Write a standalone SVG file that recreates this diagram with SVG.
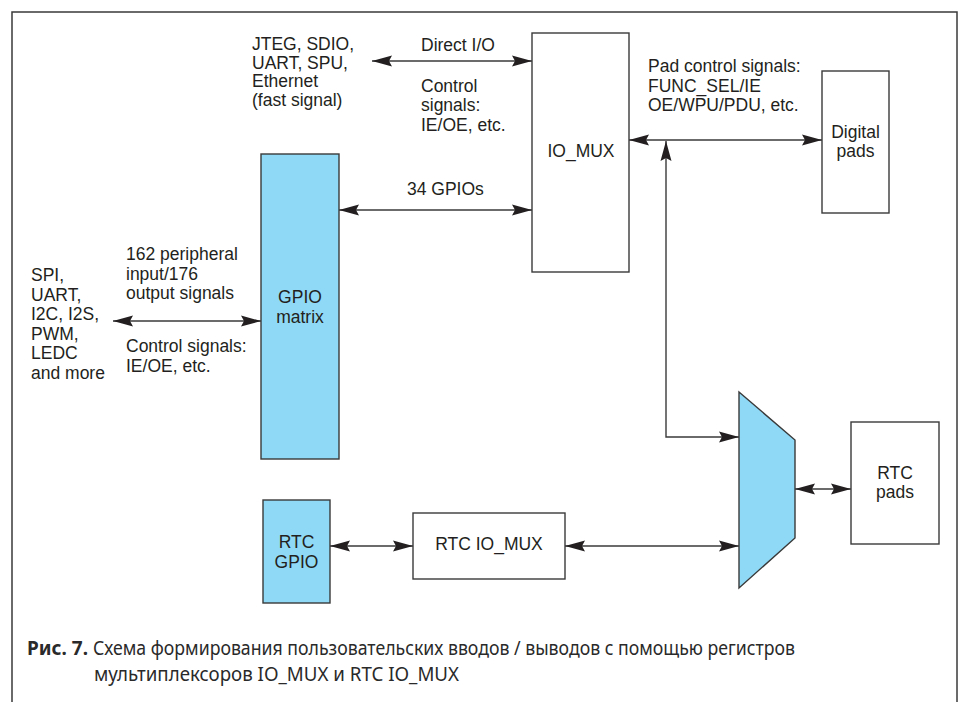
<svg xmlns="http://www.w3.org/2000/svg" width="962" height="702" viewBox="0 0 962 702">
<defs>
<style>
.t{font-family:"Liberation Sans",Arial,sans-serif;font-size:17.5px;fill:#231f20}
.c{text-anchor:middle}
.box{fill:#fff;stroke:#3a3a3a;stroke-width:1.4}
.blue{fill:#8fd9f6;stroke:#3a3a3a;stroke-width:1.4}
.ln{fill:none;stroke:#3a3a3a;stroke-width:1.4}
.cap{font-family:"Noto Sans","Open Sans",sans-serif;font-size:19.5px;fill:#2a2a2a}
.capb{font-weight:bold}
</style>
<marker id="ah" markerUnits="userSpaceOnUse" markerWidth="20" markerHeight="12" refX="20" refY="6" orient="auto-start-reverse" viewBox="0 0 20 12">
<path d="M0,0.5 L20,6 L0,11.5 L3,6 Z" fill="#231f20"/>
</marker>
</defs>
<rect x="0" y="0" width="962" height="702" fill="#fff"/>
<rect x="12" y="12" width="945" height="730" fill="none" stroke="#3a3a3a" stroke-width="1.5"/>

<g id="connectors">
<path class="ln" d="M372,61 H532" marker-start="url(#ah)" marker-end="url(#ah)"/>
<path class="ln" d="M339,210 H532" marker-start="url(#ah)" marker-end="url(#ah)"/>
<path class="ln" d="M629,140 H822" marker-start="url(#ah)" marker-end="url(#ah)"/>
<path class="ln" d="M666,141 V437 H739" marker-start="url(#ah)" marker-end="url(#ah)"/>
<path class="ln" d="M113,321 H261" marker-start="url(#ah)" marker-end="url(#ah)"/>
<path class="ln" d="M330,546 H413" marker-start="url(#ah)" marker-end="url(#ah)"/>
<path class="ln" d="M565,546 H739" marker-start="url(#ah)" marker-end="url(#ah)"/>
<path class="ln" d="M795,489 H851" marker-start="url(#ah)" marker-end="url(#ah)"/>
</g>

<g id="io_mux">
<rect class="box" x="532" y="33" width="97" height="239"/>
<text class="t c" x="581" y="157">IO_MUX</text>
</g>
<g id="digital_pads">
<rect class="box" x="822" y="71" width="67" height="142"/>
<text class="t c" x="855.5" y="138">Digital</text>
<text class="t c" x="855.5" y="157">pads</text>
</g>
<g id="gpio_matrix">
<rect class="blue" x="261" y="154" width="78" height="305"/>
<text class="t c" x="300" y="303">GPIO</text>
<text class="t c" x="300" y="322.5">matrix</text>
</g>
<g id="rtc_gpio">
<rect class="blue" x="263" y="500" width="67" height="103"/>
<text class="t c" x="296.5" y="548">RTC</text>
<text class="t c" x="296.5" y="567.5">GPIO</text>
</g>
<g id="rtc_io_mux">
<rect class="box" x="413" y="513" width="152" height="66"/>
<text class="t c" x="489" y="550">RTC IO_MUX</text>
</g>
<g id="mux">
<polygon class="blue" points="739,392 795,440 795,538 739,588"/>
</g>
<g id="rtc_pads">
<rect class="box" x="851" y="422" width="88" height="122"/>
<text class="t c" x="895" y="478.5">RTC</text>
<text class="t c" x="895" y="498">pads</text>
</g>

<g id="labels">
<text class="t" x="252" y="50">JTEG, SDIO,</text>
<text class="t" x="252" y="68.5">UART, SPU,</text>
<text class="t" x="252" y="87">Ethernet</text>
<text class="t" x="252" y="106">(fast signal)</text>
<text class="t" x="421" y="51">Direct I/O</text>
<text class="t" x="421" y="91.7">Control</text>
<text class="t" x="421" y="111.2">signals:</text>
<text class="t" x="421" y="130.7">IE/OE, etc.</text>
<text class="t" x="407" y="195">34 GPIOs</text>
<text class="t" x="648" y="72">Pad control signals:</text>
<text class="t" x="648" y="91.5">FUNC_SEL/IE</text>
<text class="t" x="648" y="111">OE/WPU/PDU, etc.</text>
<text class="t" x="31" y="281">SPI,</text>
<text class="t" x="31" y="300.5">UART,</text>
<text class="t" x="31" y="320">I2C, I2S,</text>
<text class="t" x="31" y="339.5">PWM,</text>
<text class="t" x="31" y="359">LEDC</text>
<text class="t" x="31" y="378.5">and more</text>
<text class="t" x="126" y="260">162 peripheral</text>
<text class="t" x="126" y="279.5">input/176</text>
<text class="t" x="126" y="299">output signals</text>
<text class="t" x="126" y="352">Control signals:</text>
<text class="t" x="126" y="371.5">IE/OE, etc.</text>
</g>

<g id="caption">
<text class="cap capb" x="27" y="655" textLength="61" lengthAdjust="spacingAndGlyphs">Рис. 7.</text>
<text class="cap" x="93" y="655" textLength="702" lengthAdjust="spacingAndGlyphs">Схема формирования пользовательских вводов / выводов с помощью регистров</text>
<text class="cap" x="94" y="681" textLength="365" lengthAdjust="spacingAndGlyphs">мультиплексоров IO_MUX и RTC IO_MUX</text>
</g>
</svg>
